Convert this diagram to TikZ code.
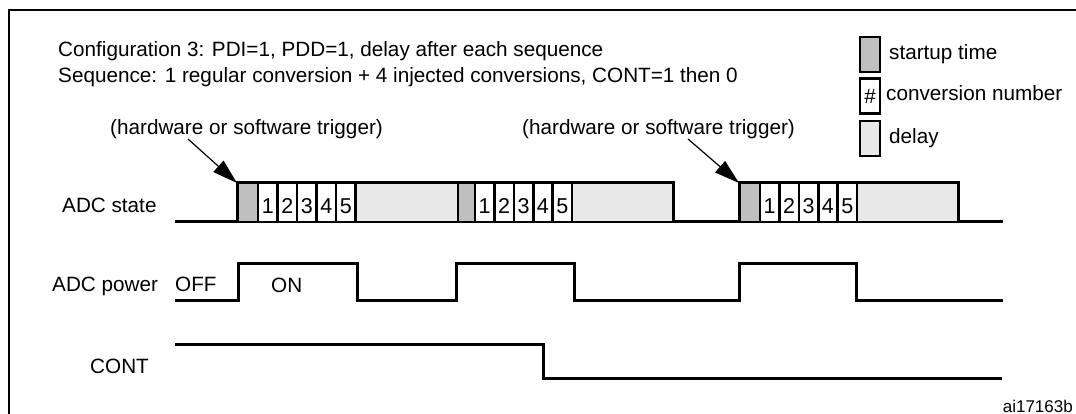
\documentclass[tikz,border=0pt]{standalone}
\usepackage{fontspec}
\setmainfont{Liberation Sans}
\usetikzlibrary{arrows.meta, positioning}

\newcommand\dfont{\fontsize{20.7}{24}\selectfont}
\newcommand\nfont{\fontsize{21.5}{24}\selectfont}
% one conversion sequence: name, start, end of startup, end of conversions, end of delay
\newcommand\seqbox[5]{%
  \coordinate (#1) at (#2,183);
  \fill[startfill] (#2,183) rectangle (#3,222);
  \fill[delayfill] (#4,183) rectangle (#5,222);
  \draw[cell] (#2,183) rectangle (#3,222);
  \foreach \k in {1,...,5}{
    \pgfmathsetmacro\xa{#3+(\k-1)*(#4-#3)/5}
    \pgfmathsetmacro\xb{#3+\k*(#4-#3)/5}
    \draw[cell] (\xa,183) rectangle (\xb,222);
    \node[num] (#1-\k) at ({(\xa+\xb)/2},213.5) {\k};
  }
  \draw[cell] (#4,183) rectangle (#5,222);
}

\begin{document}
\begin{tikzpicture}[
    x=1pt, y=-1pt,
    sig/.style={line width=3pt},
    cell/.style={line width=2.6pt},
    startfill/.style={fill=gray!50},
    delayfill/.style={fill=gray!18},
    txt/.style={font=\dfont, inner sep=0pt, anchor=base west},
    num/.style={font=\nfont, inner sep=0pt, anchor=base},
    trig/.style={-{Triangle[length=25pt,width=15pt]}, line width=1.2pt},
    legbox/.style={draw, line width=2.5pt, minimum width=20pt, minimum height=35pt,
                   inner sep=0pt, font=\dfont},
]
\useasboundingbox (0,0) rectangle (1076,414);
\draw[line width=2.5pt] (9,414) -- (9,10) -- (1076,10);

\node[txt] (conf) at (58,57) {Configuration 3: PDI=1, PDD=1, delay after each sequence};
\node[txt] (seq) at (58,83) {Sequence: 1 regular conversion + 4 injected conversions, CONT=1 then 0};

\node[legbox, startfill] (legstart) at (870,54.5) {};
\node[legbox] (legconv) at (870,96) {\#};
\node[legbox, delayfill] (legdelay) at (870,138.5) {};
\node[txt] (legstarttxt) at (889,60) {startup time};
\node[txt] (legconvtxt) at (886,101) {conversion number};
\node[txt] (legdelaytxt) at (889,144) {delay};

\seqbox{seqa}{237}{258}{355.5}{458}
\seqbox{seqb}{458}{475}{572}{673}
\seqbox{seqc}{739}{760}{857}{958}

\draw[sig] (175,222) -| (237,183) -| (673,222) -| (739,183) -| (958,222) -- (1003,222);
\draw[sig] (175,300) -| (238,263) -| (357,300) -| (456,263) -| (574,300) -| (739,263)
           -| (856,300) -- (1003,300);
\draw[sig] (175,344) -| (543,378) -- (1002,378);

\node[txt] (trga) at (110,135) {(hardware or software trigger)};
\node[txt] (trgb) at (522,135) {(hardware or software trigger)};
\coordinate (trga-from) at (188,139);
\coordinate (trgb-from) at (688,139);
\draw[trig] (trga-from) -- (seqa);
\draw[trig] (trgb-from) -- (seqc);

\node[txt] (state) at (62,213) {ADC state};
\node[txt] (power) at (52,291) {ADC power};
\node[txt] (cont) at (90,373) {CONT};
\node[txt] (off) at (175,291) {OFF};
\node[txt] (on) at (271,292) {ON};

\node[font=\fontsize{17}{19}\selectfont, inner sep=0pt, anchor=base east] (ref) at (1073,412) {ai17163b};
\end{tikzpicture}
\end{document}
